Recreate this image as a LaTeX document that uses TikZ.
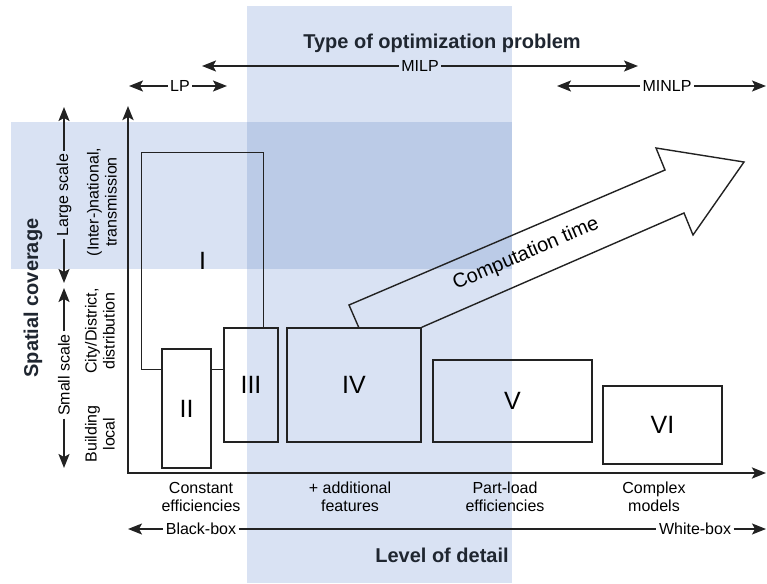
\documentclass[tikz,border=0pt]{standalone}
\usepackage{fontspec}
\setmainfont{Liberation Sans}
\usetikzlibrary{arrows.meta}
\definecolor{bandblue}{HTML}{D9E2F3}
\definecolor{bandoverlap}{HTML}{BBCBE7}
\definecolor{inkline}{HTML}{222222}
\definecolor{titleink}{HTML}{1F2630}

\begin{document}
\begin{tikzpicture}[x=1pt,y=-1pt,
  lbl/.style={inner sep=2.5pt, text=black, font=\fontsize{16}{18}\selectfont},
  twoline/.style={lbl, align=center},
  heading/.style={inner sep=0pt, text=titleink, font=\bfseries\fontsize{20}{24}\selectfont},
  stage/.style={draw=inkline, line width=1.4pt, inner sep=0pt, font=\fontsize{25}{30}\selectfont},
  stagebare/.style={stage, draw=none},
  plainline/.style={draw=inkline, line width=1.4pt},
  span/.style={plainline, -{Stealth[length=14pt,width=11pt,inset=3pt]}},
  axis/.style={draw=inkline, line width=2.5pt, line join=miter,
    {Stealth[length=14pt,width=11pt,inset=3pt]}-{Stealth[length=14pt,width=11pt,inset=3pt]}},
]
\useasboundingbox (0,0) rectangle (767,583);

% shaded bands
\fill[bandblue] (247,6) rectangle (512,583);
\fill[bandblue] (11,122) rectangle (247,269);
\fill[bandoverlap] (247,122) rectangle (512,269);

% headings
\node[heading] (optype) at (442,43) {Type of optimization problem};
\node[heading] (detail) at (442,555) {Level of detail};
\node[heading, rotate=90] (spatial) at (33,298) {Spatial coverage};

% problem classes
\node[lbl] (milp) at (420,66) {MILP};
\coordinate (milpL) at (202,66);
\coordinate (milpR) at (638,66);
\draw[span] (milp) -- (milpL);
\draw[span] (milp) -- (milpR);

\node[lbl] (lp) at (180,86) {LP};
\coordinate (lpL) at (129,86);
\coordinate (lpR) at (227,86);
\draw[span] (lp) -- (lpL);
\draw[span] (lp) -- (lpR);

\node[lbl] (minlp) at (667,86) {MINLP};
\coordinate (minlpL) at (557,86);
\coordinate (minlpR) at (766,86);
\draw[span] (minlp) -- (minlpL);
\draw[span] (minlp) -- (minlpR);

% spatial scales
\node[lbl, rotate=90] (large) at (64,195) {Large scale};
\coordinate (largeT) at (64,107);
\coordinate (largeB) at (64,283);
\draw[span] (large) -- (largeT);
\draw[span] (large) -- (largeB);

\node[lbl, rotate=90] (small) at (64,375) {Small scale};
\coordinate (smallT) at (64,288);
\coordinate (smallB) at (64,468);
\draw[span] (small) -- (smallT);
\draw[span] (small) -- (smallB);

\node[twoline, rotate=90] (national) at (102,202) {(Inter-)national,\\transmission};
\node[twoline, rotate=90] (city) at (100,331) {City/District,\\distribution};
\node[twoline, rotate=90] (building) at (100,434) {Building\\local};

% axes
\coordinate (origin) at (128,473);
\coordinate (ytop) at (128,106);
\coordinate (xend) at (766,473);
\draw[axis] (ytop) -- (origin) -- (xend);

% detail levels
\node[twoline] (const) at (201,497) {Constant\\efficiencies};
\node[twoline] (addf) at (350,497) {+ additional\\features};
\node[twoline] (partload) at (505,497) {Part-load\\efficiencies};
\node[twoline] (complex) at (654,497) {Complex\\models};

\node[lbl] (blackbox) at (201,529) {Black-box};
\node[lbl] (whitebox) at (695,529) {White-box};
\coordinate (bbL) at (128,529);
\coordinate (wbR) at (766,529);
\draw[span] (blackbox) -- (bbL);
\draw[plainline] (blackbox) -- (whitebox);
\draw[span] (whitebox) -- (wbR);

% model classes
\node[stagebare, minimum width=121pt, minimum height=216pt] (b1) at (202.5,261) {I};
\node[stage, minimum width=49pt, minimum height=119pt] (b2) at (186.5,408.5) {II};
\node[stage, minimum width=54pt, minimum height=114pt] (b3) at (251,385) {III};
\node[stage, minimum width=134pt, minimum height=114pt] (b4) at (354,385) {IV};
\node[stage, minimum width=159pt, minimum height=82pt] (b5) at (512.5,401) {V};
\node[stage, minimum width=119pt, minimum height=78pt] (b6) at (662.5,425) {VI};

% outline of I, partly hidden behind II and III
\draw[plainline] (b1.south west -| b2.west) -- (b1.south west) -- (b1.north west)
  -- (b1.north east) -- (b1.north east |- b3.north);
\draw[plainline] (b2.east |- b1.south) -- (b3.west |- b1.south);

% computation time arrow rising from IV
\coordinate (ctbase) at (359,328);
\draw[plainline, line join=miter] (ctbase) -- (349,305) -- (665,170) -- (656,148)
  -- (744,162) -- (693,235) -- (684,213) -- (b4.north east);
\node[lbl, rotate=23.3, font=\fontsize{20}{24}\selectfont] (ctime) at (526,254) {Computation time};
\end{tikzpicture}
\end{document}
